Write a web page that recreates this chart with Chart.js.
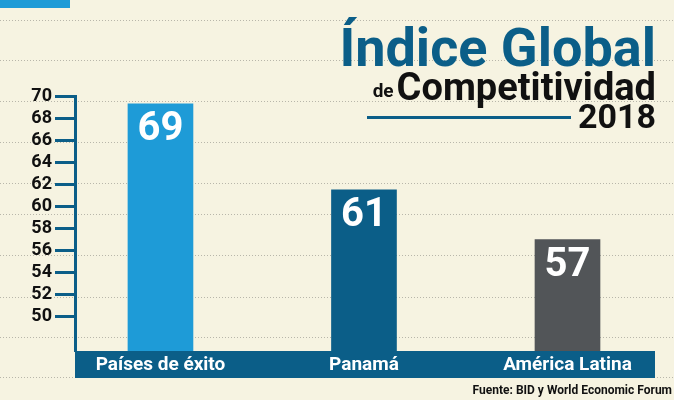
<!DOCTYPE html>
<html><head><meta charset="utf-8">
<script src="https://cdn.jsdelivr.net/npm/chart.js@4/dist/chart.umd.min.js"></script>
<style>html,body{margin:0;padding:0;background:#f6f3e1}#w{width:674px;height:400px}</style>
</head><body><div id="w"><canvas id="c"></canvas></div>
<script>
const categories = ["Países de éxito", "Panamá", "América Latina"];
const values = [69.3, 61.5, 57];
const valueLabels = ["69", "61", "57"];
const yTicks = [50, 52, 54, 56, 58, 60, 62, 64, 66, 68, 70];
const colors = ["#1e9bd7", "#0b5e88", "#525558"];
const F = '"Liberation Sans Narrow","Roboto",sans-serif';

const deco = {
  id: 'deco',
  beforeDraw(ch) {
    const c = ch.ctx;
    c.save();
    c.fillStyle = '#f6f3e1'; c.fillRect(0, 0, ch.width, ch.height);
    c.strokeStyle = '#b8b6aa'; c.lineWidth = 1; c.setLineDash([1, 2]);
    [20, 60, 101, 142, 183, 214, 255, 297, 337, 377].forEach(y => {
      c.beginPath(); c.moveTo(0, y + 0.5); c.lineTo(ch.width, y + 0.5); c.stroke();
    });
    c.setLineDash([]);
    c.fillStyle = '#1e9bd7'; c.fillRect(0, 0, 70, 8);
    c.restore();
  },
  afterDraw(ch) {
    const c = ch.ctx, x = ch.scales.x, a = ch.chartArea;
    c.save();
    c.fillStyle = '#0b5e88';
    c.fillRect(a.left, a.bottom, a.right - a.left, 27);
    c.fillStyle = '#fff'; c.textAlign = 'center'; c.textBaseline = 'middle';
    c.font = 'bold 19px ' + F;
    categories.forEach((t, i) => c.fillText(t, x.getPixelForValue(i), a.bottom + 14));
    const meta = ch.getDatasetMeta(0);
    c.font = 'bold 40px ' + F; c.textBaseline = 'top';
    meta.data.forEach((b, i) => c.fillText(valueLabels[i], b.x, b.y + 6));
    c.textAlign = 'right'; c.textBaseline = 'alphabetic';
    c.fillStyle = '#0b5e88'; c.font = 'bold 54px ' + F;
    c.fillText('Índice Global', 656, 66);
    c.fillStyle = '#111'; c.font = 'bold 38px ' + F;
    c.fillText('Competitividad', 656, 100);
    const w = c.measureText('Competitividad').width;
    c.font = 'bold 19px ' + F;
    c.fillText('de', 656 - w - 3, 97);
    c.font = 'bold 34px ' + F;
    c.fillText('2018', 656, 128);
    c.fillStyle = '#0b5e88'; c.fillRect(367, 116, 204, 3);
    c.fillStyle = '#111'; c.font = 'bold 12px ' + F;
    c.fillText('Fuente: BID y World Economic Forum', 672, 394);
    c.restore();
  }
};

new Chart(document.getElementById('c'), {
  type: 'bar',
  data: { datasets: [{ data: values.map((v, i) => ({ x: i, y: v })), backgroundColor: colors, barThickness: 65 }] },
  options: {
    responsive: true, maintainAspectRatio: false, animation: false,
    layout: { padding: { left: 0, right: 19, top: 96, bottom: 49 } },
    plugins: { legend: { display: false }, tooltip: { enabled: false } },
    scales: {
      x: { type: 'linear', min: -0.42, max: 2.43, offset: false, display: false },
      y: {
        min: 46.9, max: 70,
        afterBuildTicks: s => { s.ticks = yTicks.map(v => ({ value: v })); },
        afterFit: s => { s.width = 75; },
        border: { color: '#0b5e88', width: 3 },
        grid: { drawOnChartArea: false, tickLength: 20, tickColor: '#0b5e88', tickWidth: 3 },
        ticks: { color: '#111', padding: 3, font: { family: F, size: 18, weight: 'bold' } }
      }
    }
  },
  plugins: [deco]
});
</script></body></html>
